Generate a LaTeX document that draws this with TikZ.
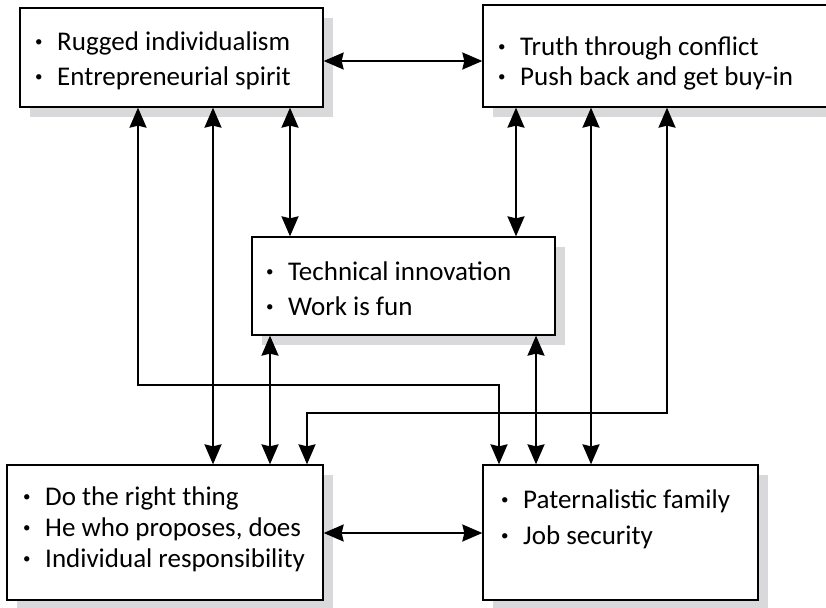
\documentclass[tikz,border=0pt]{standalone}
\usepackage{fontspec}
\setmainfont{Carlito}
\usepackage{xcolor}
\definecolor{shadowgray}{RGB}{217,217,219}
\usepackage{tikz}
\usetikzlibrary{arrows.meta, shadows}

\newcommand{\bul}{\rule{0pt}{20pt}\makebox[22pt][l]{\raisebox{4pt}{\fontsize{15}{15}\selectfont\textbullet}}}

\begin{document}
\begin{tikzpicture}[x=1pt, y=-1pt,
  valuebox/.style={draw, line width=1.3pt, fill=white, inner sep=0pt,
      drop shadow={shadow xshift=10pt, shadow yshift=-10pt, fill=shadowgray, opacity=1}},
  valuetext/.style={anchor=north west, align=left, inner sep=0pt},
  link/.style={line width=2pt, {Stealth[length=20pt,width=17pt,inset=2pt]}-{Stealth[length=20pt,width=17pt,inset=2pt]}}]

\useasboundingbox (0,0) rectangle (826,607);

% --- value boxes ---
\node[valuebox, minimum width=303pt, minimum height=99pt] (rugged) at (171.5,57.5) {};
\node[valuebox, minimum width=360pt, minimum height=102pt] (truth) at (663,56) {};
\node[valuebox, minimum width=303pt, minimum height=98pt] (techinnov) at (403.5,286) {};
\node[valuebox, minimum width=316pt, minimum height=135pt] (doright) at (165,532.5) {};
\node[valuebox, minimum width=275pt, minimum height=135pt] (paternal) at (620.5,532.5) {};

% --- texts ---
\node[valuetext, font=\fontsize{27}{35}\selectfont] (ruggedtxt) at (35,30)
  {\bul Rugged individualism\\ \bul Entrepreneurial spirit};
\node[valuetext, font=\fontsize{27}{30}\selectfont] (truthtxt) at (498,35)
  {\bul Truth through conflict\\ \bul Push back and get buy-in};
\node[valuetext, font=\fontsize{27}{35}\selectfont] (techinnovtxt) at (266,260)
  {\bul Technical innovation\\ \bul Work is fun};
\node[valuetext, font=\fontsize{27}{31}\selectfont] (dorighttxt) at (23,485)
  {\bul Do the right thing\\ \bul He who proposes, does\\ \bul Individual responsibility};
\node[valuetext, font=\fontsize{27}{36}\selectfont] (paternaltxt) at (501,488)
  {\bul Paternalistic family\\ \bul Job security};

% --- horizontal links ---
\draw[link] (rugged.east |- 0,61) -- (truth.west |- 0,61);
\draw[link] (doright.east |- 0,533) -- (paternal.west |- 0,533);

% --- vertical links ---
\draw[link] (rugged.south -| 213,0) -- (doright.north -| 213,0);
\draw[link] (rugged.south -| 290,0) -- (techinnov.north -| 290,0);
\draw[link] (truth.south -| 516,0) -- (techinnov.north -| 516,0);
\draw[link] (truth.south -| 591,0) -- (paternal.north -| 591,0);
\draw[link] (techinnov.south -| 270,0) -- (doright.north -| 270,0);
\draw[link] (techinnov.south -| 536,0) -- (paternal.north -| 536,0);

% --- crossing links ---
\draw[link] (rugged.south -| 138,0) |- (499,385) -- (paternal.north -| 499,0);
\draw[link] (truth.south -| 667,0) |- (307,413) -- (doright.north -| 307,0);

\end{tikzpicture}
\end{document}
